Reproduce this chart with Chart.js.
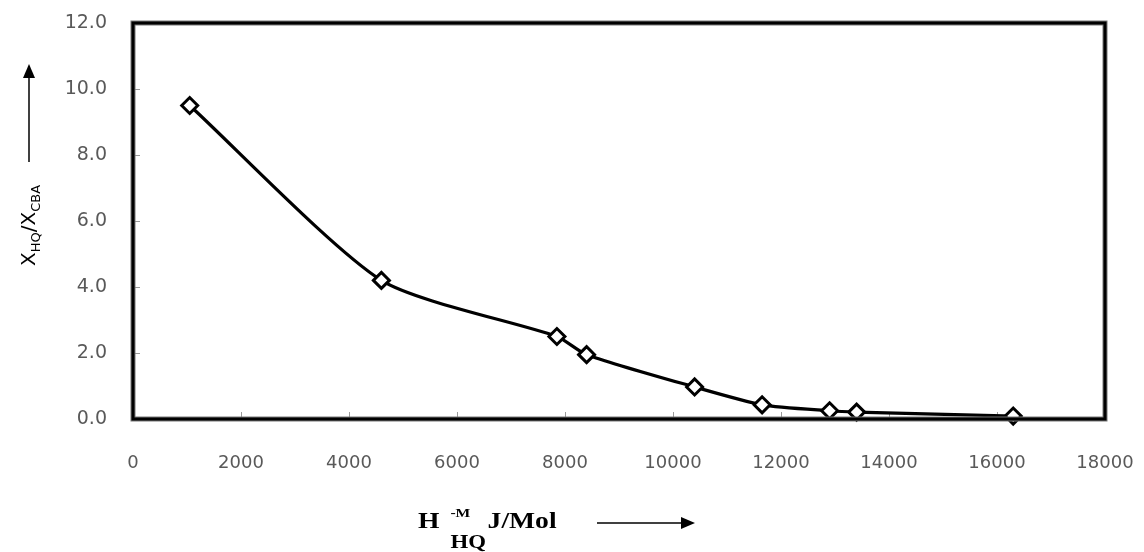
<!DOCTYPE html>
<html>
<head>
<meta charset="utf-8">
<style>
html,body{margin:0;padding:0;background:#fff;}
#wrap{width:1144px;height:552px;position:relative;}
</style>
<script src="https://cdn.jsdelivr.net/npm/chart.js@4.4.1/dist/chart.umd.min.js"></script>
</head>
<body>
<div id="wrap"><canvas id="c" width="1144" height="552"></canvas></div>
<script>
const xValues = [1050, 4600, 7850, 8400, 10400, 11650, 12900, 13400, 16300];
const yValues = [9.5, 4.2, 2.5, 1.95, 0.97, 0.43, 0.25, 0.21, 0.09];
const xTicks = [0, 2000, 4000, 6000, 8000, 10000, 12000, 14000, 16000, 18000];
const yTicks = [0, 2, 4, 6, 8, 10, 12];

const points = xValues.map((x, i) => ({x: x, y: yValues[i]}));

function arrow(ctx, x1, y1, x2, y2, head) {
  ctx.save();
  ctx.strokeStyle = '#000';
  ctx.fillStyle = '#000';
  ctx.lineWidth = 1.5;
  const ang = Math.atan2(y2 - y1, x2 - x1);
  const bx = x2 - head * Math.cos(ang), by = y2 - head * Math.sin(ang);
  ctx.beginPath(); ctx.moveTo(x1, y1); ctx.lineTo(bx, by); ctx.stroke();
  ctx.beginPath();
  ctx.moveTo(x2, y2);
  ctx.lineTo(bx + 6 * Math.sin(ang), by - 6 * Math.cos(ang));
  ctx.lineTo(bx - 6 * Math.sin(ang), by + 6 * Math.cos(ang));
  ctx.closePath(); ctx.fill();
  ctx.restore();
}

const deco = {
  id: 'deco',
  beforeDatasetsDraw(chart) {
    const ctx = chart.ctx, a = chart.chartArea;
    const xs = chart.scales.x, ys = chart.scales.y;
    ctx.save();
    ctx.strokeStyle = '#9a9a9a';
    ctx.lineWidth = 1;
    xTicks.forEach(v => {
      const px = Math.round(xs.getPixelForValue(v)) + 0.5;
      ctx.beginPath(); ctx.moveTo(px, a.bottom); ctx.lineTo(px, a.bottom - 7); ctx.stroke();
    });
    yTicks.forEach(v => {
      const py = Math.round(ys.getPixelForValue(v)) + 0.5;
      ctx.beginPath(); ctx.moveTo(a.left, py); ctx.lineTo(a.left + 7, py); ctx.stroke();
    });
    ctx.restore();
  },
  afterDraw(chart) {
    const ctx = chart.ctx, a = chart.chartArea;
    ctx.save();
    // frame
    ctx.strokeStyle = '#777';
    ctx.lineWidth = 5;
    ctx.strokeRect(a.left, a.top, a.right - a.left, a.bottom - a.top);
    ctx.strokeStyle = '#000';
    ctx.lineWidth = 3;
    ctx.strokeRect(a.left, a.top, a.right - a.left, a.bottom - a.top);

    // y title (rotated)
    ctx.save();
    ctx.translate(28, 266);
    ctx.rotate(-Math.PI / 2);
    ctx.fillStyle = '#000';
    ctx.textBaseline = 'alphabetic';
    ctx.textAlign = 'left';
    let x = 0;
    const big = '20px "DejaVu Sans"', small = '13px "DejaVu Sans"';
    const parts = [['X', big, 0], ['HQ', small, 5], ['/X', big, 0], ['CBA', small, 5]];
    parts.forEach(p => {
      ctx.font = p[1];
      ctx.fillText(p[0], x, 7 + p[2]);
      x += ctx.measureText(p[0]).width;
    });
    ctx.restore();
    arrow(ctx, 29, 162, 29, 64, 14);

    // x title (slightly widened like the reference)
    ctx.save();
    ctx.translate(418, 0);
    ctx.scale(1.2, 1);
    ctx.fillStyle = '#000';
    ctx.textAlign = 'left';
    ctx.textBaseline = 'alphabetic';
    ctx.font = 'bold 23px "Liberation Serif"';
    ctx.fillText('H', 0, 528);
    ctx.font = 'bold 13px "Liberation Serif"';
    ctx.fillText('-M', 27, 517);
    ctx.font = 'bold 19px "Liberation Serif"';
    ctx.fillText('HQ', 27, 548);
    ctx.font = 'bold 23px "Liberation Serif"';
    ctx.fillText('J/Mol', 58, 528);
    ctx.restore();
    arrow(ctx, 597, 523, 695, 523, 14);
    ctx.restore();
  }
};

new Chart(document.getElementById('c'), {
  type: 'scatter',
  data: {
    datasets: [{
      data: points,
      showLine: true,
      borderColor: '#000',
      borderWidth: 3.2,
      tension: 0.22,
      pointStyle: 'rectRot',
      pointRadius: 8,
      pointBackgroundColor: '#fff',
      pointBorderColor: '#000',
      pointBorderWidth: 3,
      clip: false
    }]
  },
  options: {
    responsive: false,
    animation: false,
    layout: {padding: {left: 0, right: 39, top: 23, bottom: 0}},
    plugins: {legend: {display: false}, tooltip: {enabled: false}},
    scales: {
      x: {
        type: 'linear', min: 0, max: 18000,
        afterBuildTicks(s) { s.ticks = xTicks.map(v => ({value: v})); },
        afterFit(s) { s.height = 133; s.paddingLeft = 0; s.paddingRight = 0; },
        grid: {display: false, drawTicks: false},
        border: {display: false},
        ticks: {
          padding: 34,
          color: '#595959',
          font: {family: '"DejaVu Sans"', size: 18},
          callback: v => String(v)
        }
      },
      y: {
        type: 'linear', min: 0, max: 12,
        afterBuildTicks(s) { s.ticks = yTicks.map(v => ({value: v})); },
        afterFit(s) { s.width = 133; s.paddingTop = 0; s.paddingBottom = 0; },
        grid: {display: false, drawTicks: false},
        border: {display: false},
        ticks: {
          padding: 26,
          color: '#595959',
          font: {family: '"DejaVu Sans"', size: 19},
          callback: v => v.toFixed(1)
        }
      }
    }
  },
  plugins: [deco]
});
</script>
</body>
</html>
